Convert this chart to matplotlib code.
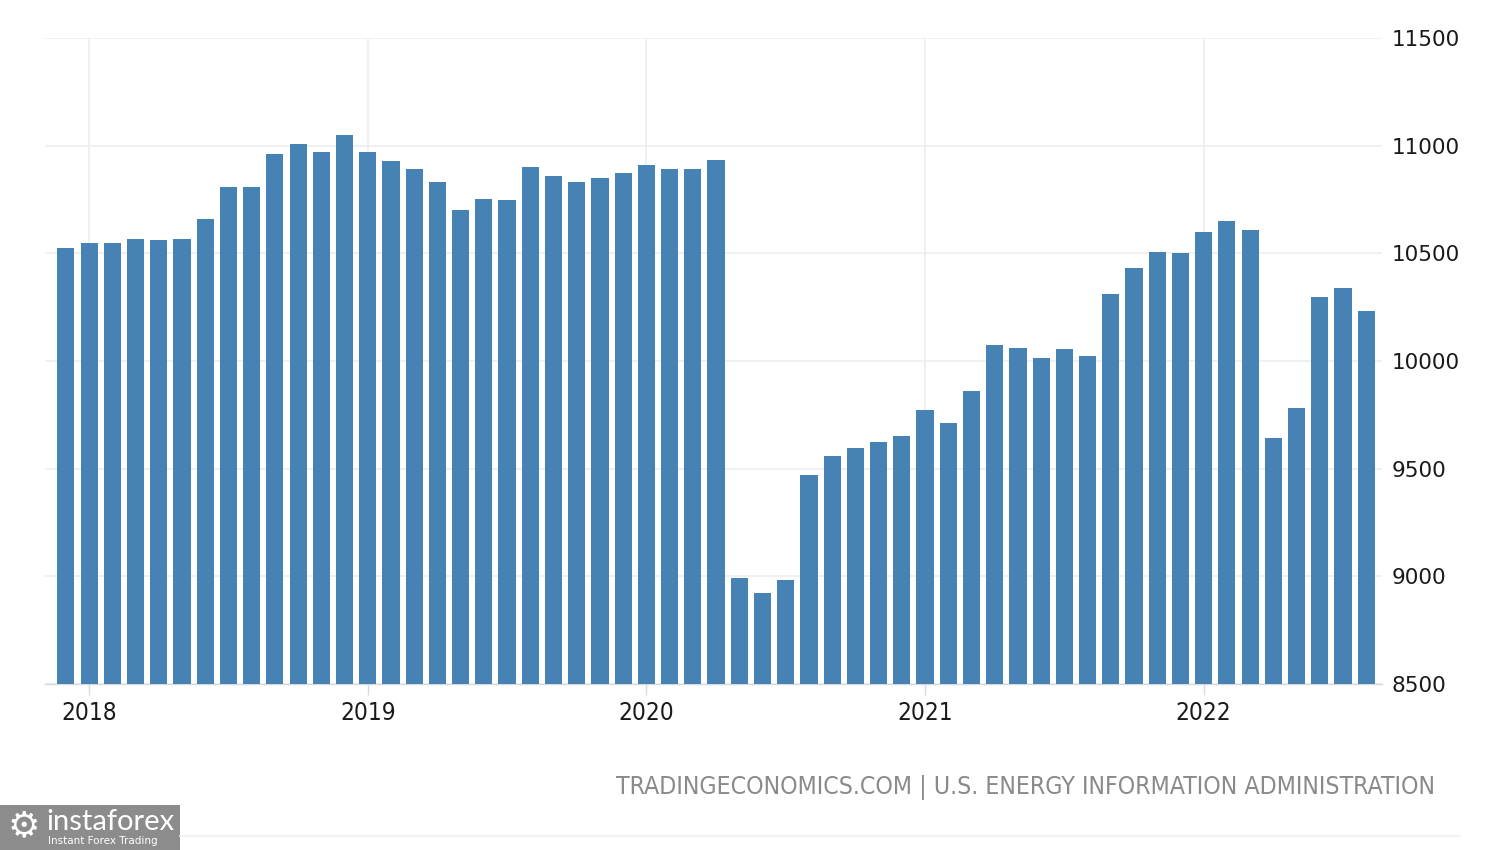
import matplotlib
matplotlib.use("Agg")
import matplotlib.pyplot as plt
from matplotlib.patches import Rectangle
from matplotlib import font_manager
from matplotlib.font_manager import FontProperties

# ---- data (monthly, Dec 2017 .. Aug 2022) ----
values = [10523, 10547, 10547, 10565, 10561, 10565, 10658, 10810, 10807, 10963,
          11009, 10969, 11050, 10969, 10930, 10891, 10829, 10702, 10754, 10748,
          10899, 10860, 10829, 10848, 10871, 10911, 10891, 10891, 10933,
          8991, 8923, 8981, 9471, 9560, 9594, 9625, 9653, 9771, 9712,
          9861, 10073, 10062, 10014, 10054, 10022, 10309, 10433, 10505, 10500,
          10597, 10648, 10608, 9641, 9783, 10298, 10340, 10231]
year_labels = ["2018", "2019", "2020", "2021", "2022"]
year_positions = [1, 13, 25, 37, 49]   # index of January bars
y_ticks = [8500, 9000, 9500, 10000, 10500, 11000, 11500]
source_text = "TRADINGECONOMICS.COM | U.S. ENERGY INFORMATION ADMINISTRATION"

# pick a condensed face if one is installed
cond_fp = FontProperties(family="DejaVu Sans", stretch="condensed")
cond_file = font_manager.findfont(cond_fp, fallback_to_default=True)
has_cond = "ondensed" in cond_file
if has_cond:
    narrow_fp = dict(family="DejaVu Sans", stretch="condensed")
    year_size, src_size = 17.5, 17.8
else:
    narrow_fp = dict(family="DejaVu Sans")
    year_size, src_size = 15.5, 16

W, H = 1500, 850
fig = plt.figure(figsize=(15, 8.5), dpi=100)
fig.patch.set_facecolor("white")

left_px, right_px, top_px, bot_px = 45, 1382, 38, 684
ax = fig.add_axes([left_px / W, 1 - bot_px / H, (right_px - left_px) / W, (bot_px - top_px) / H])

x = list(range(len(values)))
ax.bar(x, values, width=0.74, color="#4682b4", bottom=0, zorder=3)

ax.set_ylim(8500, 11500)
ax.set_xlim(-0.9, len(values) - 1 + 0.68)

ax.set_yticks(y_ticks)
ax.set_yticklabels([str(v) for v in y_ticks])
ax.yaxis.tick_right()
ax.tick_params(axis="y", length=0, pad=7, labelsize=15.5, labelcolor="#1a1a1a")

ax.set_xticks(year_positions)
ax.set_xticklabels(year_labels)
for lab in ax.get_xticklabels():
    lab.set_fontsize(year_size)
    lab.set_family(narrow_fp["family"])
    if "stretch" in narrow_fp:
        lab.set_stretch(narrow_fp["stretch"])
ax.tick_params(axis="x", length=8, width=1, color="#d8d8e0", pad=4, labelcolor="#1a1a1a")

ax.grid(True, axis="both", color="#ececf2", linewidth=1.2, zorder=0)
for s in ["top", "left", "right"]:
    ax.spines[s].set_visible(False)
ax.spines["bottom"].set_color("#d8d8e0")
ax.spines["bottom"].set_linewidth(1)
ax.set_facecolor("white")

# source text
fig.text(1435 / W, 1 - 788 / H, source_text, ha="right", va="center",
         fontsize=src_size, color="#8a8a8a", **narrow_fp)

# faint bottom line
fig.add_artist(plt.Line2D([180 / W, 1460 / W], [1 - 836 / H, 1 - 836 / H],
                          color="#f0f0f4", linewidth=1.2))

# instaforex badge
fig.add_artist(Rectangle((0, 0), 180 / W, 45 / H, transform=fig.transFigure,
                         facecolor="#8c8c8c", edgecolor="none"))
fig.text(24 / W, 1 - 826 / H, "\u2699", ha="center", va="center",
         fontsize=26, color="white", family="DejaVu Sans")
fig.text(46 / W, 1 - 822 / H, "instaforex", ha="left", va="center",
         fontsize=21, color="white", family="Lato")
fig.text(48 / W, 1 - 841 / H, "Instant Forex Trading", ha="left", va="center",
         fontsize=7.5, color="white", family="DejaVu Sans")

fig.savefig("out.png", dpi=100, facecolor="white")
